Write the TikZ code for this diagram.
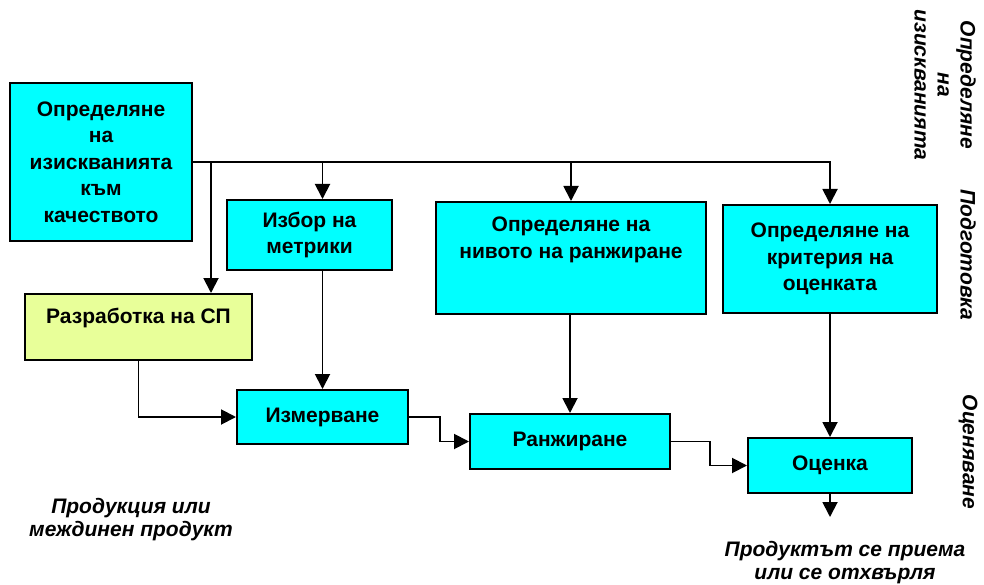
\documentclass[tikz,border=0pt]{standalone}
\usepackage{fontspec}
\setmainfont{Liberation Sans}
\usetikzlibrary{arrows.meta,positioning,calc}
\definecolor{boxcyan}{RGB}{0,255,255}
\definecolor{boxlime}{RGB}{232,255,153}
\tikzset{cbox/.style={draw=black,fill=boxcyan,line width=2pt,inner sep=0pt,align=center},
 gbox/.style={cbox,fill=boxlime},
 flow/.style={-{Triangle[length=15pt,width=15pt]},line width=1.9pt},
 txt/.style={align=center},
 note/.style={align=center,font=\bfseries\itshape\fontsize{21}{23}\selectfont}}
\begin{document}
\begin{tikzpicture}[x=1pt,y=-1pt,font=\bfseries\fontsize{21}{26.5}\selectfont]
\useasboundingbox (0,0) rectangle (984,585);
\node[cbox,minimum width=182pt,minimum height=158pt](req) at (101,162){Определяне\\на\\изискванията\\към\\качеството};
\node[cbox,minimum width=165pt,minimum height=70pt](metr) at (309.5,235){Избор на\\метрики};
\node[cbox,minimum width=270pt,minimum height=112pt](lvl) at (571,258){};
\node[txt](lvlt) at ([yshift=18pt]lvl.center){Определяне на\\нивото на ранжиране};
\node[cbox,minimum width=214pt,minimum height=108pt](crit) at (830,259){Определяне на\\критерия на\\оценката};
\node[gbox,minimum width=227pt,minimum height=66pt](sp) at (138.5,327){};
\node[txt](spt) at ([yshift=9pt]sp.center){Разработка на СП};
\node[cbox,minimum width=171pt,minimum height=54pt](meas) at (322.5,417){Измерване};
\node[cbox,minimum width=200pt,minimum height=55pt](rank) at (570,441.5){Ранжиране};
\node[cbox,minimum width=164pt,minimum height=55pt](eval) at (830,465.5){Оценка};
\draw[flow](req.east)-|(crit.north);
\coordinate(j1) at (211,162);
\draw[flow](j1)--(j1|-sp.north);
\draw[flow](req.east-|meas.north)--(metr.north-|meas.north);
\draw[flow](req.east-|lvl.north)--(lvl.north);
\draw[flow](metr.south-|meas.north)--(meas.north);
\draw[flow](lvl.south-|rank.north)--(rank.north);
\draw[flow](crit.south)--(eval.north);
\draw[flow](sp.south)|-(meas.west);
\draw[flow](meas.east)--++(31,0)|-(rank.west);
\draw[flow](rank.east)--++(39,0)|-(eval.west);
\coordinate[below=23pt of eval.south](out);
\draw[flow](eval.south)--(out);
\node[note](src) at (131,520){Продукция или\\междинен продукт};
\node[note](res) at (845,563){Продуктът се приема\\или се отхвърля};
\node[note,rotate=-90](ph1) at (945,85){Определяне\\на\\изискванията};
\node[note,rotate=-90](ph2) at (968,255){Подготовка};
\node[note,rotate=-90](ph3) at (968,452){Оценяване};
\end{tikzpicture}
\end{document}
